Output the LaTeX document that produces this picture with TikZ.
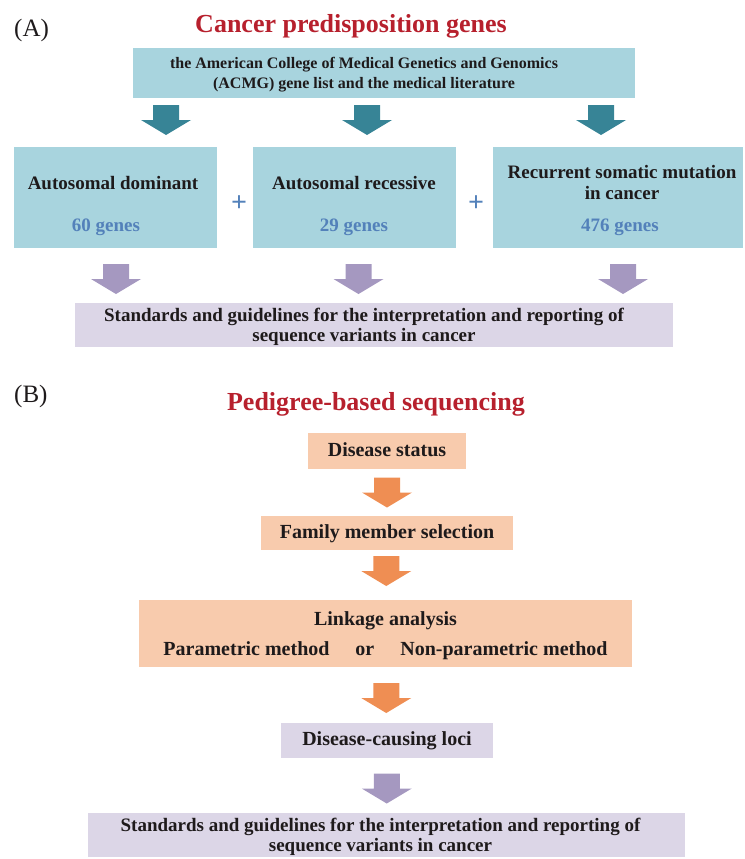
\documentclass[tikz,border=0pt]{standalone}
\usepackage{fontspec}
\setmainfont{Liberation Serif}
\usetikzlibrary{calc}

\definecolor{boxblue}{RGB}{168,212,222}
\definecolor{arrowteal}{RGB}{55,132,150}
\definecolor{genesblue}{RGB}{83,129,186}
\definecolor{arrowlilac}{RGB}{165,152,192}
\definecolor{boxlilac}{RGB}{220,214,231}
\definecolor{boxpeach}{RGB}{248,203,173}
\definecolor{arroworange}{RGB}{239,142,83}
\definecolor{titlered}{RGB}{183,32,45}
\definecolor{inkdark}{RGB}{30,26,27}

\tikzset{
    box/.style={rectangle, inner sep=0pt, text=inkdark, align=center},
    boxtext/.style={text=inkdark, inner sep=0pt, font=\bfseries\fontsize{19}{20}\selectfont},
    genes/.style={text=genesblue, inner sep=0pt, font=\bfseries\fontsize{19}{20}\selectfont},
    headline/.style={text=titlered, inner sep=0pt, anchor=base, font=\bfseries\fontsize{26}{30}\selectfont},
    tag/.style={text=inkdark, inner sep=0pt, anchor=base west, font=\fontsize{25}{30}\selectfont},
    blockarrow/.pic={\path[pic actions] (-13,0) -- (13,0) -- (13,15) -- (25,15) -- (0,30) -- (-25,15) -- (-13,15) -- cycle;}
}

\begin{document}
\begin{tikzpicture}[x=1pt, y=-1pt]
    \useasboundingbox (0,0) rectangle (744,859);

    % part A
    \node[tag] (tagA) at (14,37) {(A)};
    \node[headline] (titleA) at (351,33) {Cancer predisposition genes};

    \node[box, fill=boxblue, minimum width=502, minimum height=50,
        label={[boxtext, align=center, text depth=0pt, font=\bfseries\fontsize{16}{20}\selectfont, xshift=-20pt]center:{the American College of Medical Genetics and Genomics\\(ACMG) gene list and the medical literature}}] (acmg) at (384,73) {};

    \pic[fill=arrowteal] at (166,105) {blockarrow};
    \pic[fill=arrowteal] at (367,105) {blockarrow};
    \pic[fill=arrowteal] at (601,105) {blockarrow};

    \node[box, fill=boxblue, minimum width=203, minimum height=101] (dom) at (115.5,197.5) {};
    \node[box, fill=boxblue, minimum width=203, minimum height=101] (rec) at (354.5,197.5) {};
    \node[box, fill=boxblue, minimum width=250, minimum height=101] (som) at (618,197.5) {};

    \node[boxtext, anchor=base] (domT) at (113,189) {Autosomal dominant};
    \node[genes, anchor=base] (domG) at (106,231) {60 genes};
    \node[boxtext, anchor=base] (recT) at (354,189) {Autosomal recessive};
    \node[genes, anchor=base] (recG) at (354,231) {29 genes};
    \node[boxtext, align=center, text depth=0pt, font=\bfseries\fontsize{19}{21}\selectfont] (somT) at (622,182) {Recurrent somatic mutation\\in cancer};
    \node[genes, anchor=base] (somG) at (620,231) {476 genes};

    \node[genes, font=\bfseries\fontsize{28}{28}\selectfont] (plus1) at (239,204) {+};
    \node[genes, font=\bfseries\fontsize{28}{28}\selectfont] (plus2) at (476,204) {+};

    \pic[fill=arrowlilac] at (116,264) {blockarrow};
    \pic[fill=arrowlilac] at (358.5,264) {blockarrow};
    \pic[fill=arrowlilac] at (623,264) {blockarrow};

    \node[box, fill=boxlilac, minimum width=598, minimum height=44,
        label={[boxtext, align=center, text depth=0pt, xshift=-10pt]center:{Standards and guidelines for the interpretation and reporting of\\sequence variants in cancer}}] (stdA) at (374,325) {};

    % part B
    \node[tag] (tagB) at (14,402) {(B)};
    \node[headline] (titleB) at (376,410) {Pedigree-based sequencing};

    \node[box, fill=boxpeach, minimum width=158, minimum height=36, text height=14pt, text depth=4pt, font=\bfseries\fontsize{20}{24}\selectfont] (status) at (387,451) {Disease status};
    \node[box, fill=boxpeach, minimum width=252, minimum height=34, text height=14pt, text depth=4pt, font=\bfseries\fontsize{20}{24}\selectfont] (family) at (387,533) {Family member selection};
    \node[box, fill=boxpeach, minimum width=493, minimum height=67, text depth=0pt, font=\bfseries\fontsize{20}{30}\selectfont] (linkage) at (385.5,633.5)
        {Linkage analysis\\Parametric method\hspace{26pt}or\hspace{26pt}Non-parametric method};
    \node[box, fill=boxlilac, minimum width=212, minimum height=35, text height=14pt, text depth=4pt, font=\bfseries\fontsize{20}{24}\selectfont] (loci) at (387,740.5) {Disease-causing loci};
    \node[box, fill=boxlilac, minimum width=597, minimum height=44,
        label={[boxtext, align=center, text depth=0pt, xshift=-6pt]center:{Standards and guidelines for the interpretation and reporting of\\sequence variants in cancer}}] (stdB) at (386.5,835) {};

    \pic[fill=arroworange] at ($(status.south)!.5!(family.north)+(0,-15)$) {blockarrow};
    \pic[fill=arroworange] at ($(family.south)!.5!(linkage.north)+(0,-19)$) {blockarrow};
    \pic[fill=arroworange] at ($(linkage.south)!.5!(loci.north)+(0,-12)$) {blockarrow};
    \pic[fill=arrowlilac] at ($(loci.south)!.5!(stdB.north)+(0,-12)$) {blockarrow};
\end{tikzpicture}
\end{document}
